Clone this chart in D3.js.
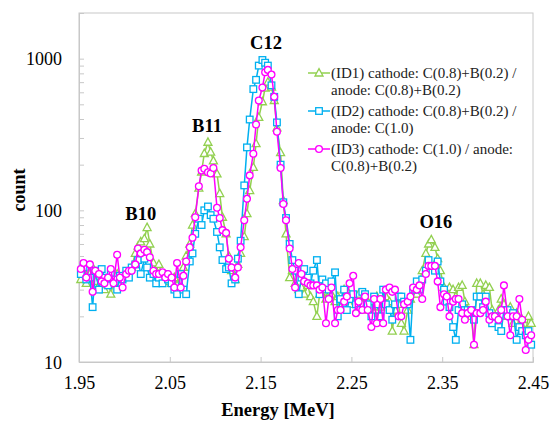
<!DOCTYPE html>
<html><head><meta charset="utf-8">
<script src="https://cdn.jsdelivr.net/npm/d3@7"></script>
<style>body{margin:0;background:#fff}svg{display:block}</style>
</head><body>
<svg id="c" width="552" height="421"></svg>
<script>
const energy = [
1.952,1.955,1.958,1.962,1.965,1.968,1.972,1.975,1.978,1.982,1.985,1.988,1.992,1.995,1.998,
2.002,2.005,2.008,2.012,2.015,2.018,2.022,2.025,2.028,2.032,2.035,2.038,2.042,2.045,2.048,
2.052,2.055,2.058,2.062,2.065,2.068,2.072,2.075,2.078,2.082,2.085,2.088,2.092,2.095,2.098,
2.102,2.105,2.108,2.112,2.115,2.118,2.122,2.125,2.128,2.132,2.135,2.138,2.142,2.145,2.148,
2.152,2.155,2.158,2.162,2.165,2.168,2.172,2.175,2.178,2.182,2.185,2.188,2.192,2.195,2.198,
2.202,2.205,2.208,2.212,2.215,2.218,2.222,2.225,2.228,2.232,2.235,2.238,2.242,2.245,2.248,
2.252,2.255,2.258,2.262,2.265,2.268,2.272,2.275,2.278,2.282,2.285,2.288,2.292,2.295,2.298,
2.302,2.305,2.308,2.312,2.315,2.318,2.322,2.325,2.328,2.332,2.335,2.338,2.342,2.345,2.348,
2.352,2.355,2.358,2.362,2.365,2.368,2.372,2.375,2.378,2.382,2.385,2.388,2.392,2.395,2.398,
2.402,2.405,2.408,2.412,2.415,2.418,2.422,2.425,2.428,2.432,2.435,2.438,2.442,2.445,2.448];

const id1 = [
35,40,33, 38,42,34, 32,36,30, 35,28,33, 38,32,36,
37,40,42, 52,58,62, 65,77,60, 45,40,44, 36,34,37,
33,36,32, 38,42,50, 60,80,95, 140,179,237, 281,242,212,
174,129,90, 70,50,40, 35,44,52, 67,95,135, 192,275,410,
520,640,700, 650,530,350, 240,116,70, 36,40,33, 30,31,28,
32,27,25, 20,28,30, 26,31,28, 25,27,23, 30,30,24,
26,26,28, 24,27,22, 25,21,27, 23,26,27, 25,16,22,
24,18,16, 22,26,28, 28,34,40, 52,60,64, 57,48,40,
31,28,31, 30,27,31, 32,25,22, 20,13,33, 33,28,32,
31,22,18, 22,26,24, 20,23,18, 21,17,19, 16,20,18];

const id2 = [
38,42,35, 36,23,40, 30,41,36, 32,38,35, 30,37,35,
40,36,42, 44,47,38, 48,42,36, 38,33,36, 33,38,35,
33,30,28, 38,30,28, 46,52,70, 88,80,100, 106,93,88,
72,57,47, 41,42,33, 35,48,63, 146,260,397, 630,725,900,
980,940,900, 667,560,380, 200,113,89, 60,47,40, 28,36,41,
36,33,40, 47,28,35, 33,30,34, 39,20,26, 30,22,26,
28,24,22, 29,28,24, 20,27,24, 20,30,24, 22,19,24,
27,27,25, 24,14,30, 34,30,35, 40,47,43, 40,46,34,
30,25,23, 17,14,22, 24,22,22, 22,19,27, 27,23,27,
21,18,20, 17,16,22, 22,20,21, 14,17,16, 15,16,13];

const id3 = [
41,45,36, 44,29,40, 38,34,33, 36,41,33, 51,36,31,
38,40,40, 44,56,52, 55,53,49, 40,38,38, 39,36,38,
36,31,45, 31,37,46, 57,66,90, 144,183,188, 178,175,190,
104,89,74, 71,48,42, 36,42,57, 86,119,170, 236,368,530,
645,813,843, 785,560,330, 190,110,86, 56,41,31, 45,38,34,
33,32,32, 32,30,31, 18,26,31, 18,22,22, 25,27,33,
37,21,25, 22,27,22, 17,26,18, 26,18,30, 31,29,30,
20,20,24, 25,27,31, 30,32,26, 38,43,43, 43,34,23,
28,27,20, 25,26,26, 21,19,21, 22,13,21, 21,22,25,
19,20,20, 19,22,32, 20,15,20, 20,26,19, 12,14,15];

const xTicks = [1.95, 2.05, 2.15, 2.25, 2.35, 2.45];
const yLabelTicks = [10, 100, 1000];
const seriesNames = ["(ID1) cathode: C(0.8)+B(0.2) /|anode: C(0.8)+B(0.2)",
                     "(ID2) cathode: C(0.8)+B(0.2) /|anode: C(1.0)",
                     "(ID3) cathode: C(1.0) / anode:|C(0.8)+B(0.2)"];
const peakNames = ["B10","B11","C12","O16"];
const peakPos = [2.018, 2.091, 2.156, 2.343];
const peakVal = [86, 326, 1164, 77];

const series = [
  {name: seriesNames[0], values: id1, color: "#92D050", marker: "triangle"},
  {name: seriesNames[1], values: id2, color: "#00B0F0", marker: "square"},
  {name: seriesNames[2], values: id3, color: "#FF00FF", marker: "circle"}
];

const svg = d3.select("#c");
const L = 79, R = 533, T = 13, B = 362;
const x = d3.scaleLinear().domain([1.95, 2.45]).range([L, R]);
const y = d3.scaleLog().domain([10, 2000]).range([B, T]);
const serif = "'Liberation Serif','Times New Roman',serif";
const axisColor = "#c8c8c8";

// frame
svg.append("rect").attr("x", L).attr("y", T).attr("width", R - L).attr("height", B - T)
  .attr("fill", "none").attr("stroke", axisColor).attr("stroke-width", 1);

// y axis
const yMinor = [];
[10, 100, 1000].forEach(d => { for (let m = 1; m <= 9; m++) { const v = d * m; if (v <= 2000) yMinor.push(v); } });
yMinor.push(2000);
const yAxis = d3.axisLeft(y).tickValues(yMinor).tickSize(-5)
  .tickFormat(d => yLabelTicks.includes(d) ? String(d) : "");
const gy = svg.append("g").attr("transform", `translate(${L},0)`).call(yAxis);
gy.select(".domain").attr("stroke", axisColor);
gy.selectAll(".tick line").attr("stroke", axisColor);
gy.selectAll(".tick text").attr("font-family", serif).attr("font-size", 18)
  .attr("fill", "#000").attr("x", -17).attr("dy", "0.35em");

// x axis
const xAxis = d3.axisBottom(x).tickValues(xTicks).tickSize(-5).tickFormat(d3.format(".2f"));
const gx = svg.append("g").attr("transform", `translate(0,${B})`).call(xAxis);
gx.select(".domain").attr("stroke", axisColor);
gx.selectAll(".tick line").attr("stroke", axisColor);
gx.selectAll(".tick text").attr("font-family", serif).attr("font-size", 18)
  .attr("fill", "#000").attr("y", 14).attr("dy", "0.71em");

// axis titles
svg.append("text").attr("x", 278).attr("y", 416).attr("text-anchor", "middle")
  .attr("font-family", serif).attr("font-weight", "bold").attr("font-size", 18.5).text("Energy [MeV]");
svg.append("text").attr("transform", "translate(25,190) rotate(-90)").attr("text-anchor", "middle")
  .attr("font-family", serif).attr("font-weight", "bold").attr("font-size", 18).text("count");

function drawMarker(g, type, color) {
  if (type === "circle") {
    g.append("circle").attr("r", 3.4);
  } else if (type === "square") {
    g.append("rect").attr("x", -3.3).attr("y", -3.3).attr("width", 6.6).attr("height", 6.6);
  } else {
    g.append("path").attr("d", "M0,-4.4L4,3L-4,3Z");
  }
  g.selectAll("*").attr("fill", "#fff").attr("stroke", color).attr("stroke-width", 1.3);
}

const line = d3.line().x(d => x(d[0])).y(d => y(d[1]));
series.forEach(s => {
  const pts = energy.map((e, i) => [e, s.values[i]]);
  const g = svg.append("g");
  g.append("path").datum(pts).attr("d", line).attr("fill", "none")
    .attr("stroke", s.color).attr("stroke-width", 1.5);
  pts.forEach(p => {
    const m = g.append("g").attr("transform", `translate(${x(p[0])},${y(p[1])})`);
    drawMarker(m, s.marker, s.color);
  });
});

// peak labels
peakNames.forEach((n, i) => {
  svg.append("text").attr("x", x(peakPos[i])).attr("y", y(peakVal[i])).attr("text-anchor", "middle")
    .attr("font-family", serif).attr("font-weight", "bold").attr("font-size", 18.5).text(n);
});

// legend
const lg = svg.append("g");
series.forEach((s, i) => {
  const yy = 73 + i * 38;
  lg.append("line").attr("x1", 308).attr("x2", 330).attr("y1", yy).attr("y2", yy)
    .attr("stroke", s.color).attr("stroke-width", 1.5);
  drawMarker(lg.append("g").attr("transform", `translate(319,${yy})`), s.marker, s.color);
  const parts = s.name.split("|");
  const t = lg.append("text").attr("font-family", serif).attr("font-size", 15).attr("fill", "#222");
  parts.forEach((p, j) => {
    t.append("tspan").attr("x", 331).attr("y", yy + 5 + j * 17).text(p);
  });
});
</script>
</body></html>
